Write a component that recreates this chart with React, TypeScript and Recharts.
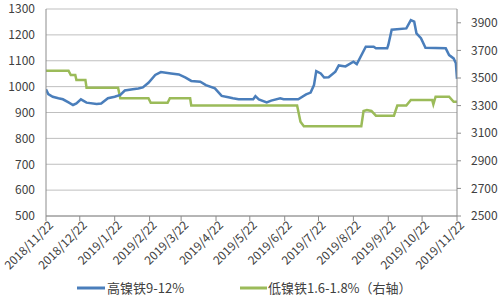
import React from "react";
import { LineChart, Line, XAxis, YAxis, CartesianGrid, Legend } from "recharts";

const tickLabels = [
  "2018/11/22", "2018/12/22", "2019/1/22", "2019/2/22", "2019/3/22", "2019/4/22", "2019/5/22",
  "2019/6/22", "2019/7/22", "2019/8/22", "2019/9/22", "2019/10/22", "2019/11/22",
];

const highNiDates = [
  "2018-11-22", "2018-11-24", "2018-11-28", "2018-12-03", "2018-12-07", "2018-12-12", "2018-12-16",
  "2018-12-19", "2018-12-23", "2018-12-28", "2019-01-06", "2019-01-10", "2019-01-16", "2019-01-22",
  "2019-01-27", "2019-01-31", "2019-02-07", "2019-02-12", "2019-02-16", "2019-02-21", "2019-02-27",
  "2019-03-04", "2019-03-13", "2019-03-20", "2019-03-26", "2019-03-31", "2019-04-08", "2019-04-13",
  "2019-04-21", "2019-04-27", "2019-05-03", "2019-05-07", "2019-05-12", "2019-05-25", "2019-05-27",
  "2019-05-30", "2019-06-06", "2019-06-10", "2019-06-18", "2019-06-21", "2019-07-04", "2019-07-11",
  "2019-07-15", "2019-07-18", "2019-07-20", "2019-07-24", "2019-07-27", "2019-07-31", "2019-08-06",
  "2019-08-09", "2019-08-15", "2019-08-22", "2019-08-25", "2019-09-02", "2019-09-09", "2019-09-11",
  "2019-09-21", "2019-09-22", "2019-09-25", "2019-10-08", "2019-10-12", "2019-10-15", "2019-10-17",
  "2019-10-21", "2019-10-25", "2019-11-12", "2019-11-15", "2019-11-19", "2019-11-21", "2019-11-22",
];
const highNiValues = [
  990, 971, 961, 955, 951, 939, 929,
  935, 951, 938, 933, 935, 955, 961,
  968, 985, 990, 993, 997, 1015, 1045,
  1056, 1051, 1047, 1035, 1022, 1019, 1006,
  993, 964, 959, 955, 951, 951, 963,
  951, 939, 946, 955, 951, 951, 970,
  977, 1006, 1060, 1051, 1035, 1036, 1058,
  1082, 1078, 1096, 1087, 1154, 1154, 1148,
  1148, 1161, 1220, 1225, 1257, 1251, 1206,
  1187, 1150, 1148, 1122, 1109, 1090, 1030,
];

const lowNiDates = [
  "2018-11-22", "2018-12-12", "2018-12-14", "2018-12-18", "2018-12-19", "2018-12-27", "2018-12-28",
  "2019-01-25", "2019-01-27", "2019-02-21", "2019-02-23", "2019-03-10", "2019-03-12", "2019-03-30",
  "2019-03-31", "2019-07-03", "2019-07-06", "2019-07-09", "2019-08-29", "2019-08-31", "2019-09-03",
  "2019-09-07", "2019-09-11", "2019-09-27", "2019-09-30", "2019-10-08", "2019-10-12", "2019-10-31",
  "2019-11-01", "2019-11-03", "2019-11-15", "2019-11-19", "2019-11-22",
];
const lowNiValues = [
  3553, 3553, 3522, 3522, 3486, 3486, 3430,
  3430, 3353, 3353, 3321, 3321, 3353, 3353,
  3300, 3300, 3183, 3150, 3150, 3261, 3268,
  3261, 3227, 3227, 3300, 3300, 3340, 3340,
  3309, 3364, 3364, 3328, 3328,
];

const leftTicks = [500, 600, 700, 800, 900, 1000, 1100, 1200, 1300];
const rightTicks = [2500, 2700, 2900, 3100, 3300, 3500, 3700, 3900];

const seriesNames = ["高镍铁9-12%", "低镍铁1.6-1.8%（右轴）"];
const BLUE = "#4A7EBB";
const GREEN = "#9BBB59";

const toTs = (s: string) => {
  const p = s.split(/[-/]/).map(Number);
  return Date.UTC(p[0], p[1] - 1, p[2]);
};

const highData = highNiDates.map((d, i) => ({ t: toTs(d), v: highNiValues[i] }));
const lowData = lowNiDates.map((d, i) => ({ t: toTs(d), v: lowNiValues[i] }));
const xTicks = tickLabels.map(toTs);
const labelOf = (t: number) => tickLabels[xTicks.indexOf(t)] ?? "";

const FONT = "'Noto Sans CJK SC', 'Noto Sans', sans-serif";
const TXT = "#404040";

const XTick = (props: any) => {
  const { x, y, payload } = props;
  return (
    <g transform={`translate(${x + 5},${y})`}>
      <text
        transform="rotate(-45)"
        textAnchor="end"
        dy="0.35em"
        fontSize={12}
        fill={TXT}
        fontFamily={FONT}
      >
        {labelOf(payload.value)}
      </text>
    </g>
  );
};

const LegendContent = () => (
  <svg width={500} height={22} style={{ display: "block" }}>
    <line x1={77} x2={105} y1={11} y2={11} stroke={BLUE} strokeWidth={3} />
    <text x={107} y={11} dy="0.36em" fontSize={13} fill={TXT} fontFamily={FONT}>
      {seriesNames[0]}
    </text>
    <line x1={240} x2={267} y1={11} y2={11} stroke={GREEN} strokeWidth={3} />
    <text x={268} y={11} dy="0.36em" fontSize={13} fill={TXT} fontFamily={FONT}>
      {seriesNames[1]}
    </text>
  </svg>
);

export default function App() {
  return (
    <div style={{ position: "absolute", left: 0, top: 0, background: "#fff" }}>
      <LineChart
        width={500}
        height={301}
        margin={{ top: 9, right: 0, left: 0, bottom: 2 }}
      >
        <CartesianGrid vertical={false} stroke="#BFBFBF" yAxisId="left" />
        <XAxis
          dataKey="t"
          type="number"
          domain={[xTicks[0], xTicks[xTicks.length - 1]]}
          ticks={xTicks}
          interval={0}
          height={61}
          tick={<XTick />}
          tickSize={5}
          stroke="#8C8C8C"
          allowDataOverflow
        />
        <YAxis
          yAxisId="left"
          orientation="left"
          domain={[500, 1300]}
          ticks={leftTicks}
          width={46}
          tickLine={false}
          tickMargin={5}
          stroke="#8C8C8C"
          tick={{ fontSize: 12, fill: TXT, fontFamily: FONT }}
        />
        <YAxis
          yAxisId="right"
          orientation="right"
          domain={[2500, 4000]}
          ticks={rightTicks}
          width={43}
          tickSize={4}
          tickMargin={10}
          stroke="#8C8C8C"
          tick={{ fontSize: 12, fill: TXT, fontFamily: FONT }}
        />
        <Legend verticalAlign="bottom" height={22} content={<LegendContent />} />
        <Line
          yAxisId="right"
          data={lowData}
          dataKey="v"
          type="linear"
          stroke={GREEN}
          strokeWidth={2.5}
          dot={false}
          isAnimationActive={false}
          name={seriesNames[1]}
        />
        <Line
          yAxisId="left"
          data={highData}
          dataKey="v"
          type="linear"
          stroke={BLUE}
          strokeWidth={2.5}
          dot={false}
          isAnimationActive={false}
          name={seriesNames[0]}
        />
      </LineChart>
    </div>
  );
}
